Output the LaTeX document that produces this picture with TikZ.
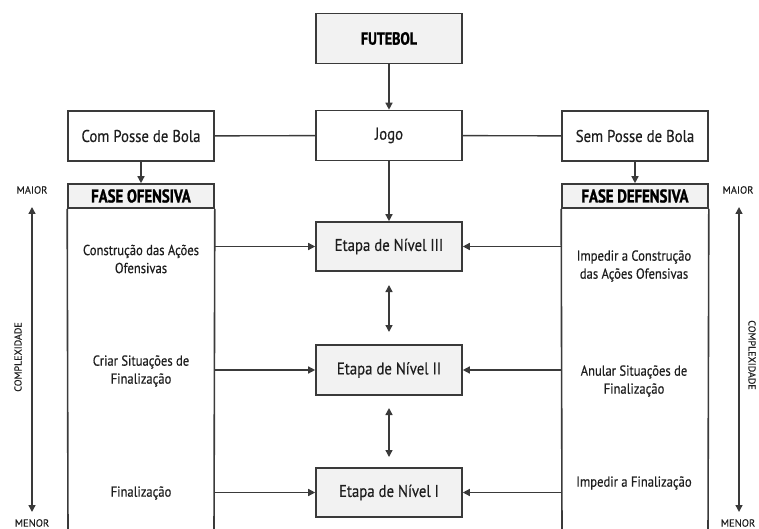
\documentclass[tikz,border=0pt]{standalone}
\usepackage{fontspec}
\setmainfont[FakeStretch=0.87,FakeBold=0.4]{PT Sans}
\newfontfamily\headfont[FakeStretch=0.8,FakeBold=1.2]{PT Sans}
\newfontfamily\plainfont[FakeBold=0.3]{PT Sans}
\usetikzlibrary{arrows.meta}
\definecolor{boxline}{HTML}{3A3A3A}
\definecolor{txt}{HTML}{1E1E1E}
\definecolor{lightfill}{HTML}{F2F2F2}
\tikzset{
  box/.style={draw=boxline, line width=1.6pt, minimum width=146pt, minimum height=50pt, inner sep=0pt, text=txt, font=\fontsize{17}{19}\selectfont},
  graybox/.style={box, fill=lightfill},
  headbox/.style={draw=boxline, line width=1.6pt, fill=lightfill, minimum width=146pt, minimum height=24pt, inner sep=0pt, text=black, font=\headfont\bfseries\fontsize{18.5}{19}\selectfont},
  small/.style={text=txt, align=center, font=\fontsize{14.5}{18}\selectfont},
  tiny/.style={text=txt, font=\plainfont\fontsize{10}{11}\selectfont, inner sep=0pt},
  conn/.style={draw=boxline, line width=1.4pt},
  arr/.style={conn, -{Triangle[length=7pt,width=7pt]}},
  darr/.style={conn, {Triangle[length=7pt,width=7pt]}-{Triangle[length=7pt,width=7pt]}},
}
\begin{document}
\begin{tikzpicture}[x=1pt,y=-1pt]
\useasboundingbox (0,0) rectangle (759,529);
% top
\node[graybox, font=\headfont\bfseries\fontsize{17.5}{18}\selectfont, text=black] (fut) at (389,38.5) {FUTEBOL};
\node[box] (jogo) at (389,135.5) {Jogo};
\node[box] (com) at (141,136) {Com Posse de Bola};
\node[box] (sem) at (635,136) {Sem Posse de Bola};
% headers
\node[headbox] (ofh) at (141,196) {FASE OFENSIVA};
\node[headbox] (defh) at (635,196) {FASE DEFENSIVA};
% bodies
\draw[draw=boxline, line width=1.6pt] (ofh.south west) -- (68,535);
\draw[draw=boxline, line width=1.6pt] (ofh.south east) -- (214,535);
\draw[draw=boxline, line width=1.6pt] (defh.south west) -- (562,535);
\draw[draw=boxline, line width=1.6pt] (defh.south east) -- (708,535);
% etapas
\node[graybox, minimum height=49pt] (e3) at (389,246.5) {Etapa de Nível III};
\node[graybox, minimum height=50pt] (e2) at (389,370) {Etapa de Nível II};
\node[graybox, minimum height=49pt] (e1) at (389,492.5) {Etapa de Nível I};
% body texts
\node[small] (o3t) at (141,259) {Construção das Ações\\Ofensivas};
\node[small] (o2t) at (141,371) {Criar Situações de\\Finalização};
\node[small] (o1t) at (141,493) {Finalização};
\node[small] (d3t) at (634,266) {Impedir a Construção\\das Ações Ofensivas};
\node[small] (d2t) at (634,381) {Anular Situações de\\Finalização};
\node[small] (d1t) at (634,483) {Impedir a Finalização};
% connector anchors on body edges
\coordinate (o3) at (214,246.5);
\coordinate (o2) at (214,370);
\coordinate (o1) at (214,492.5);
\coordinate (d3) at (562,246.5);
\coordinate (d2) at (562,370);
\coordinate (d1) at (562,492.5);
% connectors
\draw[arr] (fut) -- (jogo);
\draw[conn] (com) -- (jogo);
\draw[conn] (jogo) -- (sem);
\draw[arr] (com) -- (ofh);
\draw[arr] (sem) -- (defh);
\draw[arr] (jogo) -- (e3);
\draw[arr] (o3) -- (e3);
\draw[arr] (o2) -- (e2);
\draw[arr] (o1) -- (e1);
\draw[arr] (d3) -- (e3);
\draw[arr] (d2) -- (e2);
\draw[arr] (d1) -- (e1);
\coordinate (e3b) at (389,285);
\coordinate (e2t) at (389,332);
\coordinate (e2b) at (389,408);
\coordinate (e1t) at (389,457);
\draw[darr] (e3b) -- (e2t);
\draw[darr] (e2b) -- (e1t);
% complexity scales
\node[tiny, font=\plainfont\fontsize{10.5}{12}\selectfont] (lmaior) at (32,190) {MAIOR};
\node[tiny, font=\plainfont\fontsize{10.5}{12}\selectfont] (lmenor) at (32,523) {MENOR};
\node[tiny, font=\plainfont\fontsize{10.5}{12}\selectfont] (rmaior) at (738,190) {MAIOR};
\node[tiny, font=\plainfont\fontsize{10.5}{12}\selectfont] (rmenor) at (738,523) {MENOR};
\coordinate (la) at (32,207);
\coordinate (lb) at (32,512);
\coordinate (ra) at (739,207);
\coordinate (rb) at (739,512);
\draw[darr] (la) -- (lb);
\draw[darr] (ra) -- (rb);
\node[tiny, rotate=90] (lcomp) at (18,357) {COMPLEXIDADE};
\node[tiny, rotate=-90] (rcomp) at (752,355) {COMPLEXIDADE};
\end{tikzpicture}
\end{document}
